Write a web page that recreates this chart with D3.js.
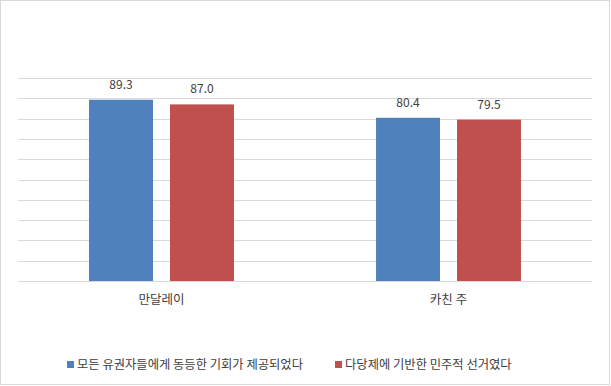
<!DOCTYPE html>
<html>
<head>
<meta charset="UTF-8" />
<script src="https://d3js.org/d3.v7.min.js"></script>
<style>
  body { margin: 0; background: #fff; }
  text { font-family: "Noto Sans CJK KR", "Noto Sans", sans-serif; fill: #404040; }
</style>
</head>
<body>
<div id="chart"></div>
<script>
  // data
  var categories = ["만달레이", "카친 주"];
  var seriesNames = ["모든 유권자들에게 동등한 기회가 제공되었다", "다당제에 기반한 민주적 선거였다"];
  var seriesA = [89.3, 80.4];
  var seriesB = [87.0, 79.5];
  var colors = ["#4f81bd", "#c0504d"];

  var W = 611, H = 386;
  var plotLeft = 18, plotRight = 592, plotTop = 78, plotBottom = 281;

  var svg = d3.select("#chart").append("svg")
    .attr("width", W).attr("height", H);

  svg.append("rect")
    .attr("x", 0.5).attr("y", 0.5)
    .attr("width", W - 2).attr("height", H - 2)
    .attr("fill", "#fff").attr("stroke", "#d9d9d9");

  var y = d3.scaleLinear().domain([0, 100]).range([plotBottom, plotTop]);

  var x0 = d3.scaleBand().domain(categories).range([plotLeft, plotRight])
    .paddingInner(0.495).paddingOuter(0.2475);
  var x1 = d3.scaleBand().domain([0, 1]).range([0, x0.bandwidth()])
    .paddingInner(0.21);

  // gridlines
  svg.append("g").selectAll("line")
    .data(y.ticks(10))
    .enter().append("line")
    .attr("x1", plotLeft).attr("x2", plotRight)
    .attr("y1", function(d) { return Math.round(y(d)) + 0.5; })
    .attr("y2", function(d) { return Math.round(y(d)) + 0.5; })
    .attr("stroke", "#d9d9d9").attr("stroke-width", 1);

  var rows = categories.map(function(c, i) {
    return { cat: c, values: [seriesA[i], seriesB[i]] };
  });

  var groups = svg.append("g").selectAll("g")
    .data(rows).enter().append("g")
    .attr("transform", function(d) { return "translate(" + x0(d.cat) + ",0)"; });

  groups.selectAll("rect")
    .data(function(d) { return d.values.map(function(v, j) { return { v: v, j: j }; }); })
    .enter().append("rect")
    .attr("x", function(d) { return x1(d.j); })
    .attr("width", x1.bandwidth())
    .attr("y", function(d) { return y(d.v); })
    .attr("height", function(d) { return y(0) - y(d.v); })
    .attr("fill", function(d) { return colors[d.j]; });

  groups.selectAll("text.val")
    .data(function(d) { return d.values.map(function(v, j) { return { v: v, j: j }; }); })
    .enter().append("text")
    .attr("class", "val")
    .attr("x", function(d) { return x1(d.j) + x1.bandwidth() / 2; })
    .attr("y", function(d) { return y(d.v) - 11; })
    .attr("text-anchor", "middle")
    .style("font-size", "12px")
    .text(function(d) { return d.v.toFixed(1); });

  // category labels
  svg.append("g").selectAll("text")
    .data(categories).enter().append("text")
    .attr("x", function(d) { return x0(d) + x0.bandwidth() / 2; })
    .attr("y", 304)
    .attr("text-anchor", "middle")
    .style("font-size", "12.5px")
    .text(function(d) { return d; });

  // legend
  var legendX = [67, 335];
  var legend = svg.append("g").selectAll("g")
    .data(seriesNames).enter().append("g")
    .attr("transform", function(d, i) { return "translate(" + legendX[i] + ",361)"; });

  legend.append("rect")
    .attr("width", 7).attr("height", 7)
    .attr("fill", function(d, i) { return colors[i]; });

  legend.append("text")
    .attr("x", 10).attr("y", 7.5)
    .style("font-size", "12.3px")
    .text(function(d) { return d; });
</script>
</body>
</html>
